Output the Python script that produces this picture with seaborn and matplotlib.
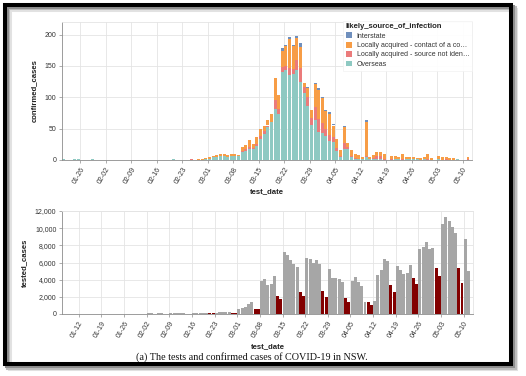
import numpy as np
import pandas as pd
import seaborn as sns
import matplotlib.pyplot as plt
import matplotlib.dates as mdates
from matplotlib.patches import Patch, Rectangle
from matplotlib.ticker import FuncFormatter

# confirmed cases per day, 2020-01-22 .. 2020-05-12
cases_start = "2020-01-22"
overseas = ([1, 0, 0, 2, 2, 0, 0, 0, 1, 0]
            + [0] * 20 + [1] + [0] * 8
            + [1, 1, 4, 5, 6, 6, 5, 6, 6, 6,
               12, 14, 18, 17, 22, 33, 42, 53, 60, 82, 74,
               140, 143, 135, 137, 143, 125, 107, 86, 55, 63]
            + [45, 43, 38, 30, 28, 14, 4, 18, 17, 4, 2, 1, 1, 5, 1,
               1, 2, 1, 0, 0, 0, 1, 2, 0, 1, 1, 2, 1, 0, 2]
            + [0, 0, 0, 1, 0, 0, 0, 0, 1, 0, 0, 0])
not_identified = ([0] * 10
                  + [0] * 25 + [1, 0, 0, 0]
                  + [0, 0, 0, 0, 0, 0, 0, 0, 1, 0,
                     2, 3, 3, 2, 3, 5, 4, 2, 0, 13, 8,
                     8, 7, 12, 8, 17, 22, 10, 15, 12, 22]
                  + [20, 16, 12, 10, 8, 5, 3, 9, 4, 2, 1, 1, 0, 2, 0,
                     2, 4, 5, 1, 0, 2, 0, 0, 1, 0, 0, 0, 0, 0, 0]
                  + [1, 0, 0, 0, 0, 1, 0, 0, 0, 0, 0, 1])
contact = ([0] * 10
           + [0] * 27 + [1, 1]
           + [2, 3, 2, 3, 3, 3, 3, 3, 2, 2,
              7, 7, 11, 6, 11, 12, 8, 9, 14, 35, 21,
              26, 31, 46, 36, 35, 33, 5, 14, 12, 36]
           + [46, 40, 28, 34, 19, 15, 9, 25, 6, 10, 7, 6, 4, 54, 4,
              5, 7, 7, 8, 0, 5, 5, 2, 8, 3, 3, 3, 2, 3, 2]
           + [8, 3, 0, 6, 4, 3, 3, 3, 1, 0, 0, 4])
interstate = ([0] * 10 + [0] * 29
              + [0] * 21 + [5, 3, 3, 3, 3, 7, 0, 2, 0, 2]
              + [4, 2, 2, 2, 2, 0, 0, 3, 0, 0, 0, 0, 0, 2, 0]
              + [0] * 15
              + [0] * 12)

sources = ["Interstate",
           "Locally acquired - contact of a co\u2026",
           "Locally acquired - source not iden\u2026",
           "Overseas"]
source_colors = ["#6f8fbd", "#f79d46", "#eb7b7b", "#8ec9c2"]

# tests per day, 2020-01-08 .. 2020-05-12
tests_start = "2020-01-08"
tested = ([0, 0, 0, 1, 0, 0, 1, 0, 0, 2, 1, 0, 0, 3, 5, 4, 8, 15, 20, 30, 40, 35, 30, 40]
          + [30, 25, 60, 70, 55, 65, 70, 40, 35, 70, 80, 75, 85, 90, 50, 45,
             100, 110, 120, 115, 130, 70, 60, 170, 190, 210, 200, 230, 150]
          + [140, 540, 660, 850, 1130, 1360, 540, 540, 3880, 4040, 3380, 3500,
             4470, 2100, 1790, 7260, 6850, 6290, 5800, 5520, 2600, 2050, 6470,
             6410, 5960, 6240, 5810, 2690, 1950, 5200, 4160]
          + [4160, 4040, 3700, 1900, 1380, 3870, 4350, 3770, 3300, 1380, 1360,
             1060, 1510, 4540, 5130, 6410, 6170, 3380, 2600, 5630, 5130, 4620,
             4740, 5670, 4160, 3500, 7530, 7840, 8430, 7570]
          + [7650, 5400, 4430, 10450, 11340, 10870, 10170, 9480, 5400, 3570, 8700, 5010])

# ---- tidy frames
case_dates = pd.date_range(cases_start, periods=len(overseas), freq="D")
cases = pd.DataFrame({"test_date": case_dates,
                      sources[0]: interstate, sources[1]: contact,
                      sources[2]: not_identified, sources[3]: overseas})
cases = cases.melt(id_vars="test_date", var_name="source", value_name="confirmed_cases")
cases["x"] = mdates.date2num(cases["test_date"]) - 0.5

test_dates = pd.date_range(tests_start, periods=len(tested), freq="D")
tests = pd.DataFrame({"test_date": test_dates, "tested_cases": tested})
tests["weekend"] = tests["test_date"].dt.dayofweek >= 5
tests["x"] = mdates.date2num(tests["test_date"]) - 0.5

sns.set_theme(style="whitegrid")
plt.rcParams["font.family"] = ["Liberation Sans", "DejaVu Sans"]

fig = plt.figure(figsize=(5.26, 3.76), dpi=100)
W, H = 526, 376


def px_axes(l, t, r, b):
    return fig.add_axes([l / W, 1 - b / H, (r - l) / W, (b - t) / H])


ax1 = px_axes(62, 22, 472, 160)
ax2 = px_axes(62, 211, 473, 314)

sns.histplot(data=cases, x="x", weights="confirmed_cases", hue="source",
             hue_order=sources, palette=source_colors, multiple="stack",
             discrete=True, shrink=0.82, alpha=1, linewidth=0, legend=False, ax=ax1)
sns.histplot(data=tests, x="x", weights="tested_cases", hue="weekend",
             hue_order=[False, True], palette=["#a6a6a6", "#820000"], multiple="stack",
             discrete=True, shrink=0.92, alpha=1, linewidth=0, legend=False, ax=ax2)

ax1.set_xlim(mdates.date2num(pd.Timestamp("2020-01-21")), mdates.date2num(pd.Timestamp("2020-05-12")) + 0.6)
ax1.set_ylim(0, 220)
ax1.set_yticks([0, 50, 100, 150, 200])
ax2.set_xlim(mdates.date2num(pd.Timestamp("2020-01-07")) - 0.2, mdates.date2num(pd.Timestamp("2020-05-12")) + 0.9)
ax2.set_ylim(0, 12000)
ax2.set_yticks(range(0, 12001, 2000))
ax2.yaxis.set_major_formatter(FuncFormatter(lambda v, p: f"{int(v):,}"))

for ax, ylab, ycoord, xcoord in [(ax1, "confirmed_cases", -0.058, -0.205),
                                 (ax2, "tested_cases", -0.082, -0.285)]:
    ax.xaxis.set_major_locator(mdates.WeekdayLocator(byweekday=mdates.SU))
    ax.xaxis.set_major_formatter(mdates.DateFormatter("%m-%d"))
    ax.grid(True, color="#e4e4e4", linewidth=0.6)
    ax.set_axisbelow(True)
    for s in ["top", "right"]:
        ax.spines[s].set_color("#e4e4e4")
        ax.spines[s].set_linewidth(0.6)
    for s in ["left", "bottom"]:
        ax.spines[s].set_color("#8c8c8c")
        ax.spines[s].set_linewidth(0.6)
    ax.tick_params(axis="both", length=2.5, width=0.5, color="#8c8c8c",
                   labelsize=5.0, labelcolor="#333333", pad=1.5, left=True, bottom=True)
    for lab in ax.get_xticklabels():
        lab.set_rotation(60)
        lab.set_ha("right")
        lab.set_va("top")
        lab.set_rotation_mode("anchor")
    ax.set_ylabel(ylab, fontsize=5.6, fontweight="bold", color="#222222")
    ax.yaxis.set_label_coords(ycoord, 0.5)
    ax.set_xlabel("test_date", fontsize=5.6, fontweight="bold", color="#222222")
    ax.xaxis.set_label_coords(0.5, xcoord)

handles = [Patch(facecolor=c, edgecolor="none") for c in source_colors]
leg = ax1.legend(handles, sources, title="likely_source_of_infection", loc="upper left",
                 bbox_to_anchor=(0.685, 1.01), fontsize=5.0, frameon=True, framealpha=0.92,
                 edgecolor="#f0f0f0", fancybox=False, handlelength=0.9, handleheight=0.9,
                 handletextpad=0.7, labelspacing=0.3, borderpad=0.4, borderaxespad=0.0,
                 alignment="left",
                 title_fontproperties={"weight": "bold", "size": 5.6})
leg.get_frame().set_linewidth(0.5)
for t in leg.get_texts():
    t.set_color("#333333")

fig.text(252 / W, 1 - 357 / H, "(a) The tests and confirmed cases of COVID-19 in NSW.",
         ha="center", va="center", fontsize=7.3, family="Liberation Serif", color="#111111")

# screenshot frame with a soft shadow
for off, col in [(5, "#e2e2e2"), (3.5, "#bdbdbd"), (2, "#8f8f8f")]:
    fig.add_artist(Rectangle(((4.7 + off) / W, 1 - (364.2 + off) / H), 506.6 / W, 359.5 / H,
                             transform=fig.transFigure, fill=False, edgecolor=col,
                             linewidth=2.9, zorder=-1))
fig.add_artist(Rectangle((4.7 / W, 1 - 364.2 / H), 506.6 / W, 359.5 / H,
                         transform=fig.transFigure, fill=False, edgecolor="black",
                         linewidth=2.9, zorder=10))

fig.savefig("out.png", dpi=100)
